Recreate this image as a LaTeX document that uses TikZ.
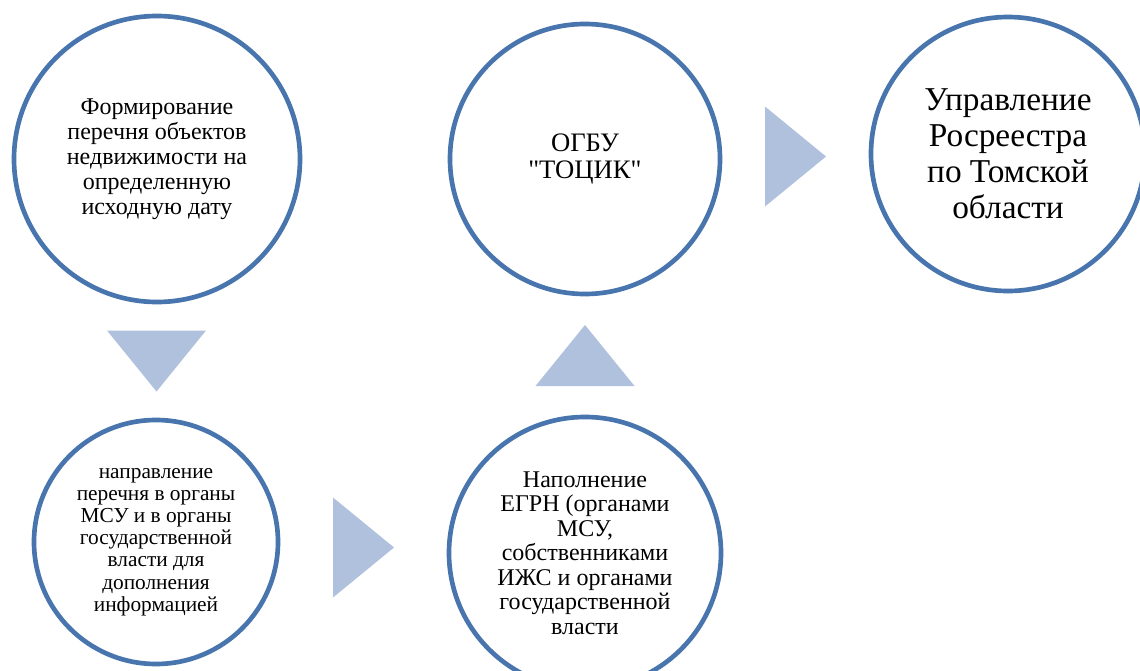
\documentclass[tikz,border=0pt]{standalone}
\usepackage{fontspec}
\setmainfont{Liberation Serif}[Ligatures=TeXOff]
\usetikzlibrary{calc}
\definecolor{ringblue}{RGB}{72,117,173}
\definecolor{arrowblue}{RGB}{176,193,221}

\begin{document}
\begin{tikzpicture}[
    x=0.75pt,
    y=-0.75pt,
    stage/.style={
        circle,
        draw=ringblue,
        line width=3.5pt,
        fill=white,
        inner sep=0pt,
        align=center
    },
    pointer/.style={
        fill=arrowblue,
        draw=none
    }
]
\useasboundingbox (0,0) rectangle (1140,671);

% Этапы
\node[stage, minimum size=214.5pt, font=\fontsize{18}{18.8}\selectfont] (form) at (157,159) {
    Формирование\\
    перечня объектов\\
    недвижимости на\\
    определенную\\
    исходную дату
};

\node[stage, minimum size=183pt, font=\fontsize{16}{16.6}\selectfont] (list) at (156,542) {
    направление\\
    перечня в органы\\
    МСУ и в органы\\
    государственной\\
    власти для\\
    дополнения\\
    информацией
};

\node[stage, minimum size=204pt, font=\fontsize{18}{18.4}\selectfont] (egrn) at (585,553) {
    Наполнение\\
    ЕГРН (органами\\
    МСУ,\\
    собственниками\\
    ИЖС и органами\\
    государственной\\
    власти
};

\node[stage, minimum size=202.5pt, font=\fontsize{20}{20.3}\selectfont] (tocik) at (585,159) {
    ОГБУ\\
    "ТОЦИК"
};

\node[stage, minimum size=205.5pt, font=\fontsize{25}{27}\selectfont] (ros) at (1008,154) {
    Управление\\
    Росреестра\\
    по Томской\\
    области
};

% Стрелки
\coordinate (t1) at ($(form.south)!0.5!(list.north)$);
\coordinate (t2) at ($(list.east)!0.5!(egrn.west)$);
\coordinate (t3) at ($(egrn.north)!0.5!(tocik.south)$);
\coordinate (t4) at ($(tocik.east)!0.5!(ros.west)$);

\fill[pointer] ($(t1)+(-49.5,-30.5)$) -- ++(99,0) -- ++(-49.5,61) -- cycle;
\fill[pointer] ($(t2)+(-30.5,-50)$) -- ++(61,50) -- ++(-61,50) -- cycle;
\fill[pointer] ($(t3)+(-49.5,30.5)$) -- ++(99,0) -- ++(-49.5,-61) -- cycle;
\fill[pointer] ($(t4)+(-30.5,-50)$) -- ++(61,50) -- ++(-61,50) -- cycle;

\end{tikzpicture}
\end{document}
